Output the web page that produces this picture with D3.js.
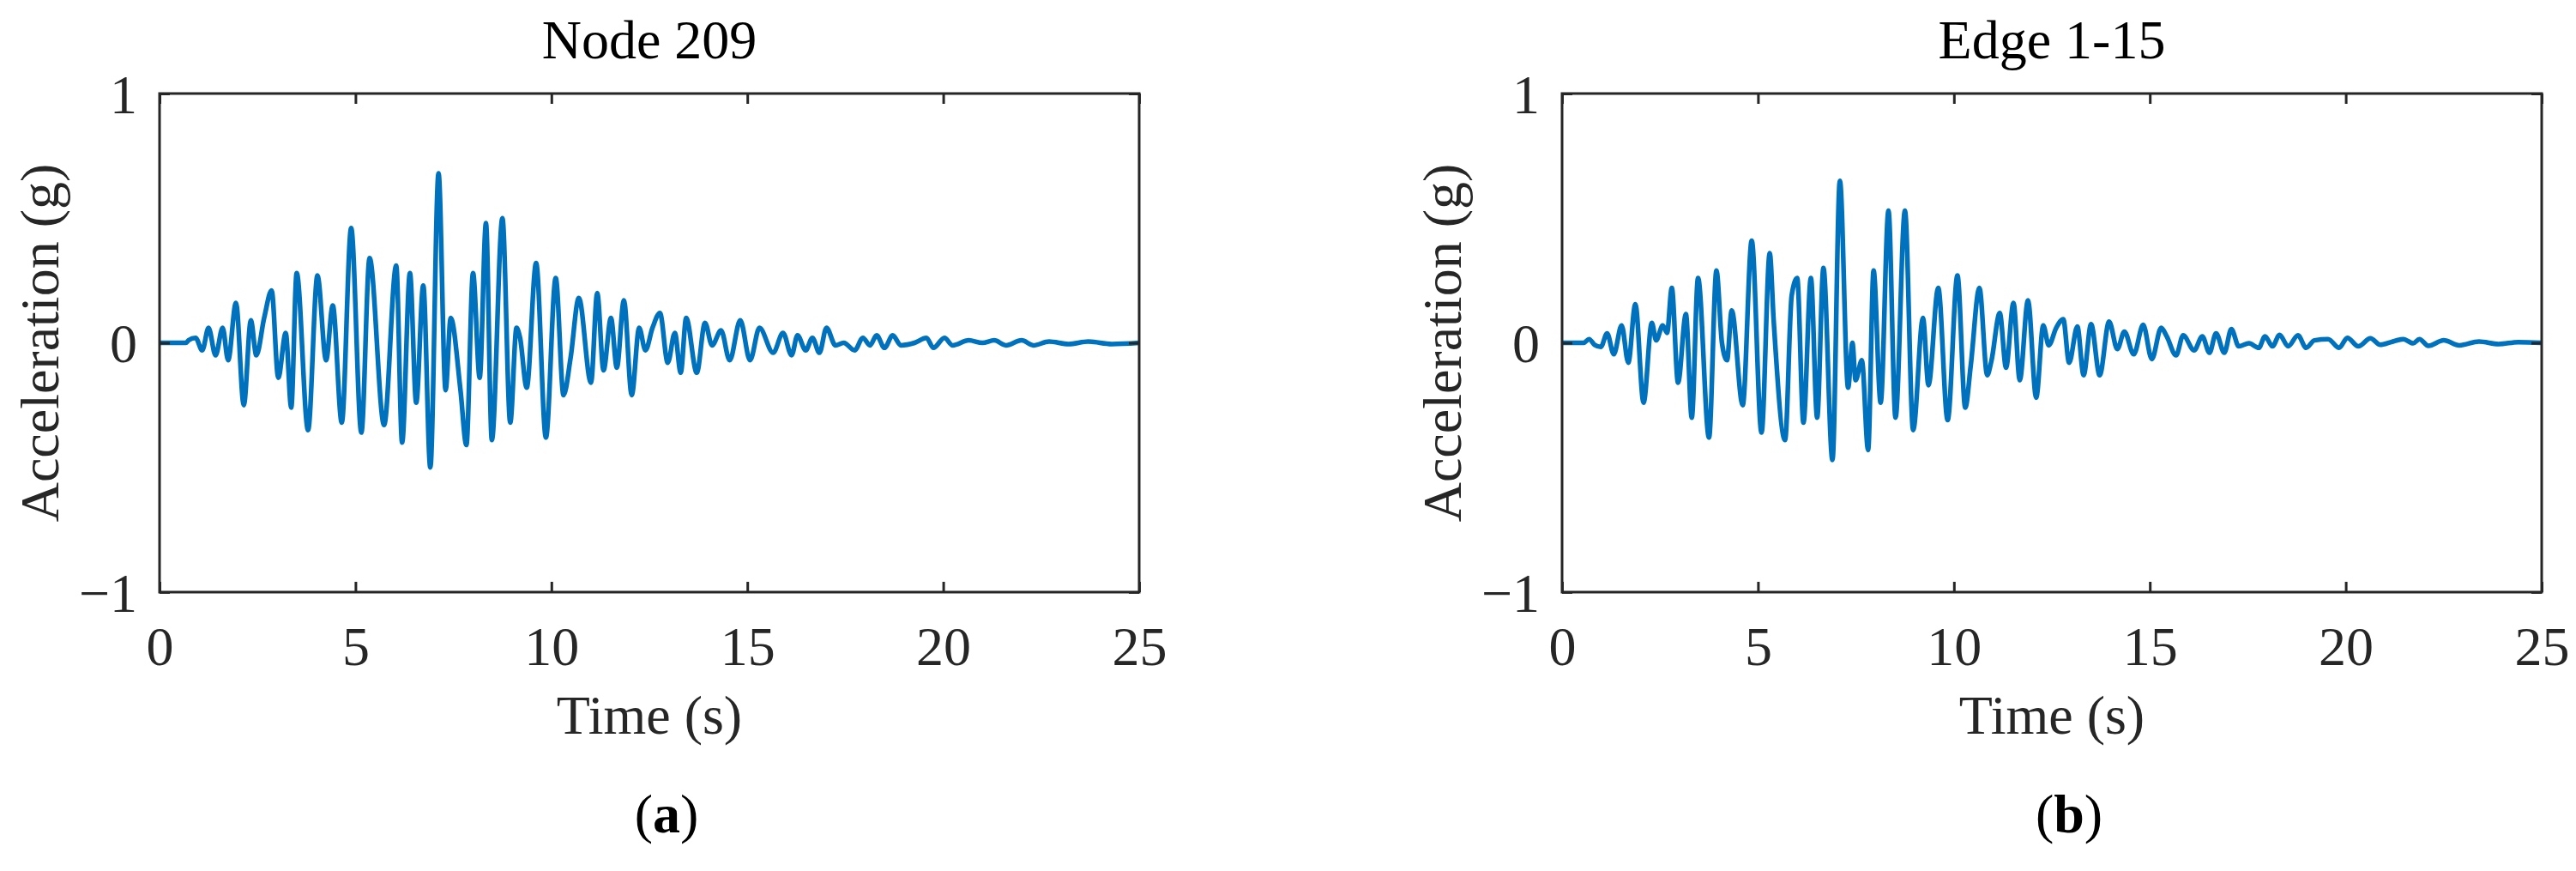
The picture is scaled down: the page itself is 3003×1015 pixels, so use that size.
<!DOCTYPE html>
<html><head><meta charset="utf-8">
<script src="https://cdn.jsdelivr.net/npm/d3@7"></script>
<style>body{margin:0;background:#fff}</style></head>
<body><svg id="c" width="3003" height="1015"></svg>
<script>
const titles = ["Node 209", "Edge 1-15"];
const panelLabels = ["a", "b"];
const xTicks = [0, 5, 10, 15, 20, 25];
const yTicks = [-1, 0, 1];

const timeA = [0,0.67,0.74,0.92,1.09,1.25,1.43,1.61,1.75,1.95,2.15,2.33,2.47,2.67,2.86,3.03,3.22,3.36,3.50,3.79,4.03,4.25,4.42,4.65,4.89,5.15,5.36,5.73,6.04,6.19,6.39,6.55,6.73,6.91,7.12,7.30,7.43,7.68,7.83,8.00,8.17,8.33,8.48,8.75,8.95,9.11,9.20,9.37,9.61,9.86,10.11,10.31,10.49,10.70,11.01,11.17,11.33,11.52,11.67,11.85,12.05,12.24,12.40,12.58,12.77,12.97,13.15,13.30,13.44,13.71,13.92,14.10,14.33,14.55,14.82,15.07,15.31,15.66,15.91,16.13,16.28,16.49,16.66,16.84,17.02,17.25,17.46,17.74,17.95,18.13,18.30,18.50,18.71,18.92,19.27,19.57,19.75,20.03,20.24,20.65,21.0,21.3,21.6,22.0,22.3,22.7,23.2,23.7,24.3,25];
const accA = [0,0,0.01,0.02,-0.03,0.06,-0.05,0.06,-0.07,0.16,-0.25,0.09,-0.05,0.10,0.21,-0.14,0.04,-0.26,0.28,-0.35,0.27,-0.07,0.15,-0.32,0.46,-0.36,0.34,-0.33,0.31,-0.40,0.28,-0.24,0.23,-0.50,0.68,-0.19,0.10,-0.19,-0.41,0.28,-0.14,0.48,-0.39,0.50,-0.32,0.06,0.02,-0.18,0.32,-0.38,0.26,-0.21,-0.06,0.18,-0.16,0.20,-0.11,0.10,-0.10,0.17,-0.21,0.06,-0.03,0.06,0.12,-0.08,0.04,-0.12,0.10,-0.12,0.08,-0.01,0.05,-0.07,0.09,-0.07,0.06,-0.04,0.04,-0.05,0.03,-0.03,0.02,-0.04,0.06,-0.01,0.00,-0.03,0.02,-0.01,0.03,-0.02,0.03,-0.01,0.00,0.02,-0.02,0.02,-0.01,0.01,0,0.01,-0.01,0.01,-0.01,0.005,-0.005,0.005,-0.005,0];

const timeB = [0,0.55,0.69,0.83,0.99,1.15,1.32,1.52,1.69,1.87,2.08,2.29,2.40,2.57,2.68,2.80,2.96,3.16,3.31,3.47,3.75,3.94,4.08,4.21,4.33,4.61,4.84,5.09,5.30,5.40,5.69,5.86,6.00,6.16,6.35,6.51,6.67,6.90,7.09,7.30,7.41,7.49,7.65,7.81,7.95,8.13,8.33,8.51,8.75,8.96,9.21,9.35,9.60,9.84,10.09,10.29,10.43,10.65,10.85,10.96,11.17,11.33,11.52,11.68,11.89,12.10,12.28,12.42,12.61,12.79,12.94,13.15,13.31,13.50,13.72,13.96,14.17,14.35,14.59,14.83,15.05,15.29,15.43,15.67,15.85,16.13,16.34,16.52,16.69,16.90,17.08,17.27,17.53,17.78,17.94,18.13,18.31,18.53,18.78,18.99,19.20,19.55,19.83,20.04,20.32,20.63,20.88,21.16,21.47,21.72,21.88,22.11,22.5,22.9,23.4,23.9,24.4,25];
const accB = [0,0,0.015,-0.008,-0.016,0.038,-0.046,0.07,-0.08,0.155,-0.24,0.08,0.01,0.07,0.04,0.22,-0.16,0.115,-0.30,0.26,-0.38,0.29,0.0,-0.07,0.13,-0.25,0.41,-0.36,0.36,0.09,-0.39,0.19,0.26,-0.32,0.26,-0.30,0.30,-0.47,0.65,-0.18,0.0,-0.15,-0.07,-0.43,0.29,-0.24,0.53,-0.30,0.53,-0.35,0.10,-0.17,0.22,-0.31,0.27,-0.26,-0.09,0.22,-0.13,-0.07,0.12,-0.10,0.16,-0.15,0.17,-0.22,0.07,-0.01,0.06,0.095,-0.08,0.065,-0.13,0.075,-0.13,0.085,-0.025,0.045,-0.046,0.072,-0.065,0.06,0.026,-0.05,0.03,-0.03,0.026,-0.04,0.038,-0.04,0.055,-0.014,-0.002,-0.02,0.026,-0.014,0.032,-0.014,0.03,-0.02,0.01,0.015,-0.02,0.02,-0.014,0.018,-0.008,0.003,0.015,-0.002,0.015,-0.012,0.01,-0.01,0.005,-0.005,0.003,0];

const series = [[timeA, accA], [timeB, accB]];
const svg = d3.select("#c");
const font = "'Liberation Serif', serif";
const col = "#262626";
const panelX = [186, 1821];
const W = 1142, yTop = 109, yBot = 690;

series.forEach(([ts, vs], i) => {
  const x0 = panelX[i];
  const x = d3.scaleLinear().domain([0, 25]).range([x0, x0 + W]);
  const y = d3.scaleLinear().domain([-1, 1]).range([yBot, yTop]);
  const g = svg.append("g");
  const pts = ts.map((t, k) => [t, vs[k]]);
  g.append("path").datum(pts)
    .attr("d", d3.line().x(d => x(d[0])).y(d => y(d[1])).curve(d3.curveMonotoneX))
    .attr("fill", "none").attr("stroke", "#0072BD").attr("stroke-width", 5.5)
    .attr("stroke-linejoin", "round");
  g.append("rect").attr("x", x0).attr("y", yTop).attr("width", W).attr("height", yBot - yTop)
    .attr("fill", "none").attr("stroke", col).attr("stroke-width", 3);
  const xb = g.append("g").attr("transform", `translate(0,${yBot})`)
    .call(d3.axisBottom(x).tickValues(xTicks).tickSize(-12).tickPadding(40).tickFormat(d3.format("d")));
  const xt = g.append("g").attr("transform", `translate(0,${yTop})`)
    .call(d3.axisTop(x).tickValues(xTicks).tickSize(-12).tickFormat(""));
  const yl = g.append("g").attr("transform", `translate(${x0},0)`)
    .call(d3.axisLeft(y).tickValues(yTicks).tickSize(-12).tickPadding(26).tickFormat(d3.format("d")));
  const yr = g.append("g").attr("transform", `translate(${x0 + W},0)`)
    .call(d3.axisRight(y).tickValues(yTicks).tickSize(-12).tickFormat(""));
  [xb, xt, yl, yr].forEach(a => {
    a.select(".domain").remove();
    a.selectAll("line").attr("stroke", col).attr("stroke-width", 3);
    a.selectAll("text").attr("font-family", font).attr("font-size", 64).attr("fill", col);
  });
  xb.selectAll("text").attr("dy", "0.71em");
  yl.selectAll("text").attr("dy", "0.35em");
  g.append("text").attr("x", x0 + W / 2).attr("y", 68).attr("text-anchor", "middle")
    .attr("font-family", font).attr("font-size", 64).attr("fill", "#000").text(titles[i]);
  g.append("text").attr("x", x0 + W / 2).attr("y", 855).attr("text-anchor", "middle")
    .attr("font-family", font).attr("font-size", 64).attr("fill", col).text("Time (s)");
  g.append("text").attr("transform", `translate(${x0 - 118},${(yTop + yBot) / 2}) rotate(-90)`)
    .attr("text-anchor", "middle").attr("font-family", font).attr("font-size", 64).attr("fill", col)
    .text("Acceleration (g)");
  const pl = g.append("text").attr("x", x0 + W / 2 + 20).attr("y", 970).attr("text-anchor", "middle")
    .attr("font-family", font).attr("font-size", 64).attr("fill", "#000");
  pl.append("tspan").text("(");
  pl.append("tspan").attr("font-weight", "bold").text(panelLabels[i]);
  pl.append("tspan").text(")");
});
</script></body></html>
